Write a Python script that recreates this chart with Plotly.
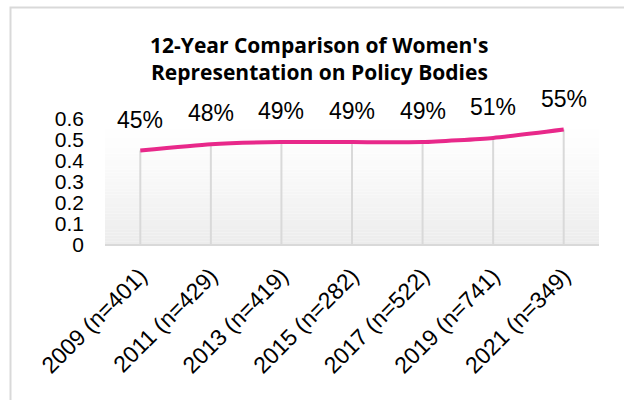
import plotly.graph_objects as go

categories = ["2009 (n=401)", "2011 (n=429)", "2013 (n=419)", "2015 (n=282)",
              "2017 (n=522)", "2019 (n=741)", "2021 (n=349)"]
values = [0.45, 0.48, 0.49, 0.49, 0.49, 0.51, 0.55]
y_ticks = [0, 0.1, 0.2, 0.3, 0.4, 0.5, 0.6]
y_tick_labels = ["0", "0.1", "0.2", "0.3", "0.4", "0.5", "0.6"]
title_lines = ["12-Year Comparison of Women's", "Representation on Policy Bodies"]

W, H = 624, 400
ml, mr, mt, mb = 105, 25, 119, 155
pw, ph = W - ml - mr, H - mt - mb

def px_x(px):
    return (px - ml) / pw

def px_y(py):
    return (H - mb - py) / ph

LINE = "#E8288A"
GRID = "#d9d9d9"

fig = go.Figure()

# drop lines from each point to the axis
for c, v in zip(categories, values):
    fig.add_trace(go.Scatter(x=[c, c], y=[0, v], mode="lines",
                             line=dict(color=GRID, width=2),
                             hoverinfo="skip", showlegend=False))

fig.add_trace(go.Scatter(x=categories, y=values, mode="lines",
                         line=dict(color=LINE, width=4, shape="spline", smoothing=0.5),
                         showlegend=False))

shapes = []
# plot-area gradient (white top -> light grey bottom)
n = 40
for i in range(n):
    t = i / (n - 1)
    g = int(round(255 - (255 - 236) * (1 - t) ** 1.3))
    shapes.append(dict(type="rect", xref="paper", yref="paper",
                       x0=0, x1=1, y0=i / n, y1=(i + 1) / n,
                       fillcolor=f"rgb({g},{g},{g})", line=dict(width=0),
                       layer="below"))
# chart border
shapes.append(dict(type="rect", xref="paper", yref="paper",
                   x0=px_x(10.5), x1=px_x(640), y0=px_y(7.5), y1=px_y(420),
                   line=dict(color=GRID, width=2), fillcolor="rgba(0,0,0,0)",
                   layer="below"))

annotations = []
for c, v in zip(categories, values):
    annotations.append(dict(x=c, y=v, xref="x", yref="y",
                            text=f"{round(v * 100)}%", showarrow=False,
                            yshift=31, font=dict(family="Liberation Sans, Arial", size=23, color="#000")))
for i, line in enumerate(title_lines):
    annotations.append(dict(x=px_x(319), y=px_y(45 + 27 * i), xref="paper", yref="paper",
                            text=f"<b>{line}</b>", showarrow=False,
                            xanchor="center", yanchor="middle",
                            font=dict(family="Open Sans", size=21, color="#000")))

fig.update_layout(
    width=W, height=H,
    margin=dict(l=ml, r=mr, t=mt, b=mb, pad=0, autoexpand=False),
    paper_bgcolor="white", plot_bgcolor="rgba(0,0,0,0)",
    shapes=shapes, annotations=annotations,
    xaxis=dict(type="category", categoryorder="array", categoryarray=categories,
               range=[-0.5, len(categories) - 0.5], automargin=False,
               showgrid=False, zeroline=False,
               showline=False, ticks="", tickangle=-45,
               ticklabelstandoff=12,
               tickfont=dict(family="Liberation Sans, Arial", size=23, color="#000")),
    yaxis=dict(range=[0, 0.6], tickvals=y_ticks, ticktext=y_tick_labels, automargin=False,
               showgrid=False, zeroline=True, zerolinecolor=GRID, zerolinewidth=2,
               showline=False, ticks="", ticklabelstandoff=20,
               tickfont=dict(family="Liberation Sans, Arial", size=21, color="#000")),
)
fig.write_html("out.html", config={"displayModeBar": False},
               post_script="document.body.style.margin='0';document.body.style.overflow='hidden';")
